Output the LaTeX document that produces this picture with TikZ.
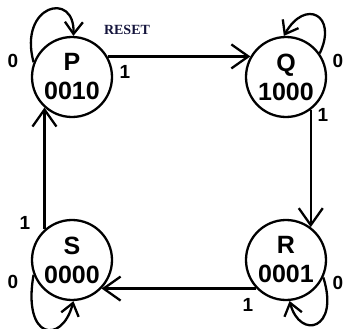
\documentclass[tikz,border=0pt]{standalone}
\usepackage{fontspec}
\setmainfont{Liberation Sans}
\newfontfamily\serifbold{Liberation Serif}
\usetikzlibrary{arrows.meta}
\begin{document}
\begin{tikzpicture}[x=1pt,y=-1pt,
  state/.style={draw, circle, line width=2.3pt, minimum size=80pt, inner sep=0pt,
    align=center, font=\fontsize{25}{29}\selectfont\bfseries},
  conn/.style={line width=2.3pt, -{Straight Barb[length=17pt,width=24pt,line width=2.3pt]}},
  loopc/.style={line width=2.3pt, -{Straight Barb[length=12pt,width=18pt,line width=2.3pt]}},
  lab/.style={font=\fontsize{19}{19}\selectfont\bfseries, inner sep=0pt}]
\useasboundingbox (0,0) rectangle (346,329);
\node[state] (P) at (72,77) {P\\0010};
\node[state] (Q) at (286,77) {Q\\1000};
\node[state] (S) at (72,260) {S\\0000};
\node[state] (R) at (286,260) {R\\0001};
% transitions
\draw[conn] (P.30) -- (Q.150);
\draw[conn] (Q.-53) -- (R.53);
\draw[conn] (R.-136) -- (S.-44);
\draw[conn] (S.132.5) -- (P.-132.5);
% self loops
\draw[loopc] (P.159) .. controls (18,5) and (75,-10) .. (P.88);
\draw[loopc] (Q.35) .. controls (338,15) and (305,-2) .. (Q.93);
\draw[loopc] (S.-159) .. controls (22,340) and (62,345) .. (S.-88);
\draw[loopc] (R.-25) .. controls (340,330) and (300,340) .. (R.-85);
% labels
\node[lab] (l1) at (13,61) {0};
\node[lab] (l2) at (125,72) {1};
\node[font=\serifbold\fontsize{14}{14}\selectfont\bfseries, text={rgb,255:red,20;green,20;blue,60}, inner sep=0pt] (rs) at (127,30) {RESET};
\node[lab] (l3) at (338,61) {0};
\node[lab] (l4) at (323,115) {1};
\node[lab] (l5) at (25,223) {1};
\node[lab] (l6) at (13,282) {0};
\node[lab] (l7) at (338,283) {0};
\node[lab] (l8) at (248,305) {1};
\end{tikzpicture}
\end{document}
